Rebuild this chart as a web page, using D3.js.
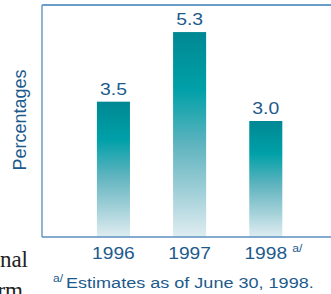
<!DOCTYPE html>
<meta charset="utf-8">
<title>Percentages 1996-1998</title>
<style>
body { margin:0; background:#fff; }
svg text { font-family: "Liberation Sans", Arial, sans-serif; fill:#1d5a8c; }
.serif { font-family: "Liberation Serif", "Times New Roman", serif; fill:#222; }
</style>
<svg width="331" height="294"></svg>
<script src="https://d3js.org/d3.v7.min.js"></script>
<script>
// data
var years  = ["1996", "1997", "1998"];
var values = [3.5, 5.3, 3.0];
var labels = ["3.5", "5.3", "3.0"];
var yMax   = 6;

var svg = d3.select("svg");
var plotL = 42, plotR = 331, plotT = 5, plotB = 237;

var x = d3.scaleBand()
    .domain(years)
    .range([plotL, plotR])
    .paddingInner(0.566)
    .paddingOuter(0.68)
    .align(0.53);

var y = d3.scaleLinear()
    .domain([0, yMax])
    .range([plotB, plotT]);

// bar gradient, dark teal at top fading out at bottom
var grad = svg.append("defs").append("linearGradient")
    .attr("id", "barfade")
    .attr("x1", 0).attr("y1", 0).attr("x2", 0).attr("y2", 1);
grad.selectAll("stop")
  .data([[0, "#008893"], [0.28, "#00a0a8"], [0.55, "#5fb4bf"], [0.8, "#a6d2da"], [1, "#dfedf1"]])
  .enter().append("stop")
    .attr("offset", function(d) { return d[0]; })
    .attr("stop-color", function(d) { return d[1]; });

svg.selectAll(".bar")
  .data(values)
  .enter().append("rect")
    .attr("class", "bar")
    .attr("x", function(d, i) { return x(years[i]); })
    .attr("width", x.bandwidth())
    .attr("y", function(d) { return y(d); })
    .attr("height", function(d) { return y(0) - y(d); })
    .attr("fill", "url(#barfade)");

// frame lines
svg.append("line")
    .attr("x1", plotL).attr("x2", plotR).attr("y1", y(yMax)).attr("y2", y(yMax))
    .style("stroke", "#3a7db8").style("stroke-width", 1.5);
svg.append("line")
    .attr("x1", plotL).attr("x2", plotL).attr("y1", y(yMax)).attr("y2", y(0))
    .style("stroke", "#6b9cc6").style("stroke-width", 1.5);
svg.append("line")
    .attr("x1", plotL).attr("x2", plotR).attr("y1", y(0)).attr("y2", y(0))
    .style("stroke", "#5b8fbf").style("stroke-width", 1.5);

// value labels
svg.selectAll(".val")
  .data(values)
  .enter().append("text")
    .attr("class", "val")
    .attr("transform", function(d, i) {
      return "translate(" + (x(years[i]) + x.bandwidth() / 2) + "," + (y(d) - 7) + ") scale(1.14,1)";
    })
    .style("font-size", "17px")
    .style("text-anchor", "middle")
    .text(function(d, i) { return labels[i]; });

// year labels
svg.selectAll(".year")
  .data(years)
  .enter().append("text")
    .attr("class", "year")
    .attr("transform", function(d) {
      return "translate(" + (x(d) + x.bandwidth() / 2) + ",259) scale(1.2,1)";
    })
    .style("font-size", "16px")
    .style("text-anchor", "middle")
    .text(function(d) { return d; });

svg.append("text")
    .attr("transform", "translate(" + (x("1998") + x.bandwidth() + 10) + ",252) scale(1.1,1)")
    .style("font-size", "11px")
    .text("a/");

// y axis title
svg.append("text")
    .attr("transform", "translate(26,120) rotate(-90)")
    .style("font-size", "18px")
    .style("text-anchor", "middle")
    .text("Percentages");

// footnote
svg.append("text")
    .attr("transform", "translate(53,282) scale(1.1,1)")
    .style("font-size", "11px")
    .text("a/");
svg.append("text")
    .attr("transform", "translate(66,288) scale(1.165,1)")
    .style("font-size", "15.5px")
    .text("Estimates as of June 30, 1998.");

// fragments of the surrounding page text
svg.append("text").attr("class", "serif")
    .attr("x", 28).attr("y", 267)
    .style("font-size", "23px").style("text-anchor", "end")
    .text("nal");
svg.append("text").attr("class", "serif")
    .attr("x", 23).attr("y", 298)
    .style("font-size", "23px").style("text-anchor", "end")
    .text("rm");
</script>
